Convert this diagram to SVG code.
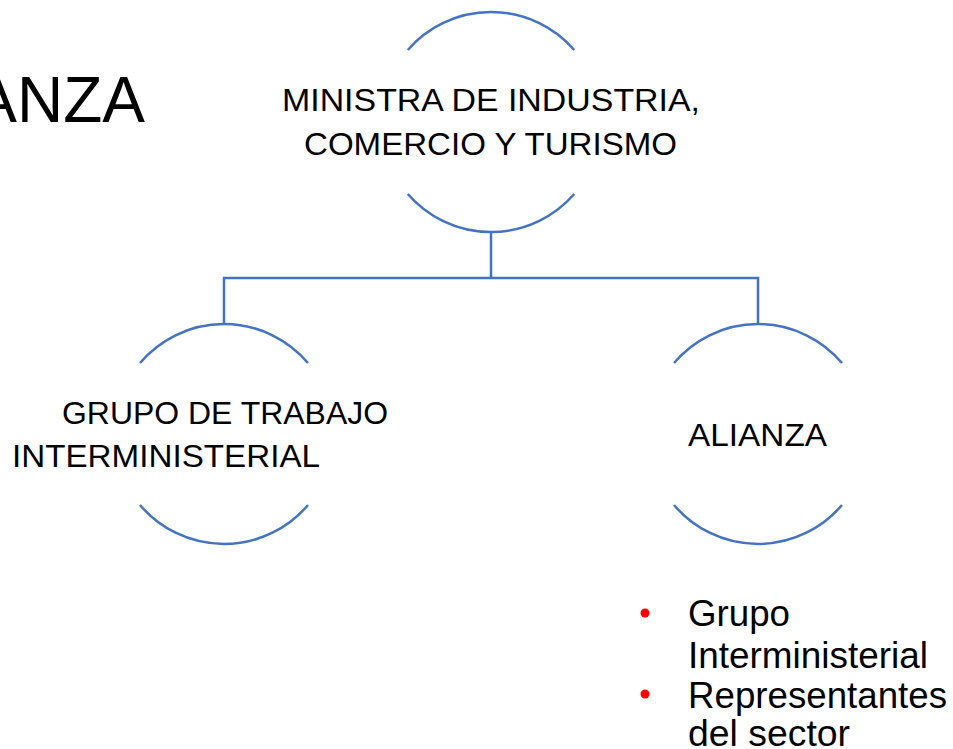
<svg xmlns="http://www.w3.org/2000/svg" width="953" height="749" viewBox="0 0 953 749">
<style>
.arc{fill:none;stroke:#4472C4;stroke-width:2.5}
.con{fill:none;stroke:#4472C4;stroke-width:2.5}
.lbl{font-family:"Liberation Sans",Arial,sans-serif;font-size:32px;fill:#000}
.bul{font-family:"Liberation Sans",Arial,sans-serif;font-size:36px;fill:#000}
</style>
<rect width="953" height="749" fill="#fff"/>
<text x="145" y="122" text-anchor="end" style="font-family:'Liberation Sans',Arial,sans-serif;font-size:64px;fill:#000">ANZA</text>
<g id="connectors">
<path class="con" d="M491 232 V278"/>
<path class="con" d="M224 324 V278 H758 V324"/>
</g>
<g id="node-ministra">
<path class="arc" d="M407.8 50 A110 110 0 0 1 574.2 50"/>
<path class="arc" d="M407.8 194 A110 110 0 0 0 574.2 194"/>
<text class="lbl" x="282" y="111" textLength="418" lengthAdjust="spacingAndGlyphs">MINISTRA DE  INDUSTRIA,</text>
<text class="lbl" x="304" y="155" textLength="373" lengthAdjust="spacingAndGlyphs">COMERCIO Y TURISMO</text>
</g>
<g id="node-grupo">
<path class="arc" d="M140 363 A110 110 0 0 1 308 363"/>
<path class="arc" d="M140 505 A110 110 0 0 0 308 505"/>
<text class="lbl" x="62" y="424" textLength="326" lengthAdjust="spacingAndGlyphs">GRUPO DE TRABAJO</text>
<text class="lbl" x="12" y="467" textLength="308" lengthAdjust="spacingAndGlyphs">INTERMINISTERIAL</text>
</g>
<g id="node-alianza">
<path class="arc" d="M674 363 A110 110 0 0 1 842 363"/>
<path class="arc" d="M674 505 A110 110 0 0 0 842 505"/>
<text class="lbl" x="688" y="446" textLength="139" lengthAdjust="spacingAndGlyphs">ALIANZA</text>
</g>
<g id="bullets">
<circle cx="645" cy="613" r="4.5" fill="#FF0000"/>
<circle cx="645" cy="694" r="4.5" fill="#FF0000"/>
<text class="bul" x="688" y="626" textLength="102" lengthAdjust="spacingAndGlyphs">Grupo</text>
<text class="bul" x="688" y="668" textLength="240" lengthAdjust="spacingAndGlyphs">Interministerial</text>
<text class="bul" x="688" y="708" textLength="259" lengthAdjust="spacingAndGlyphs">Representantes</text>
<text class="bul" x="688" y="746" textLength="162" lengthAdjust="spacingAndGlyphs">del sector</text>
</g>
</svg>
